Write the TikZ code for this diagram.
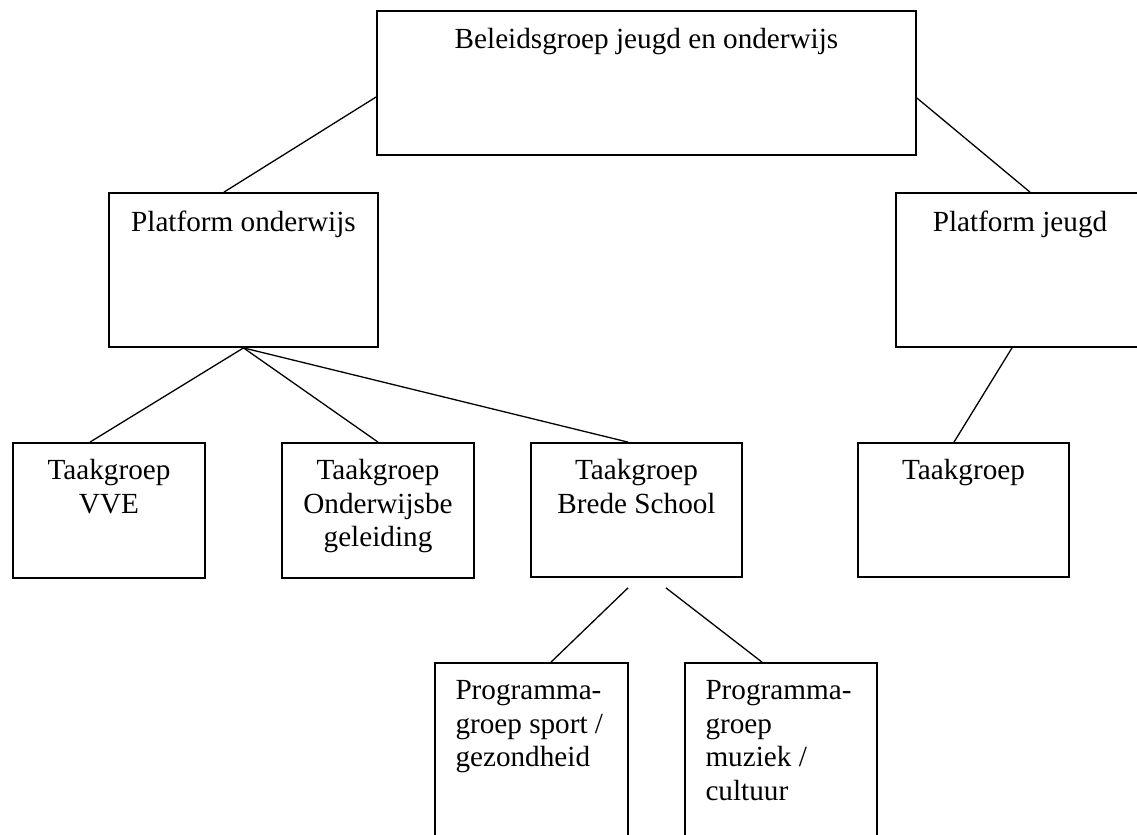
\documentclass[tikz,border=0pt]{standalone}
\usepackage{fontspec}
\setmainfont{Liberation Serif}
\usetikzlibrary{positioning}
\tikzstyle{groep} = [rectangle, 
draw=black, 
line width=0.9pt, 
inner sep=0pt]
\tikzstyle{tekst} = [inner sep=0pt, 
align=center, 
font=\fontsize{14.6}{16.8}\selectfont]
\tikzstyle{tekstlinks} = [tekst, align=left]
\tikzstyle{lijn} = [line width=0.65pt]

\begin{document}
\begin{tikzpicture}[x=0.5pt, y=-0.5pt]
\useasboundingbox (0,0) rectangle (1137,835);
\clip (0,0) rectangle (1137,835);

% Boxes
\node (beleid) [groep, minimum width=269.5pt, minimum height=72pt] at (646.5,83) {};
\node (ponderwijs) [groep, minimum width=134.5pt, minimum height=77pt] at (243.5,270) {};
\node (pjeugd) [groep, minimum width=124pt, minimum height=77pt] at (1020,270) {};
\node (vve) [groep, minimum width=96pt, minimum height=67.5pt] at (109,510.5) {};
\node (obeg) [groep, minimum width=96pt, minimum height=67.5pt] at (378,510.5) {};
\node (brede) [groep, minimum width=105.5pt, minimum height=67pt] at (636.5,510) {};
\node (tjeugd) [groep, minimum width=105.5pt, minimum height=67pt] at (963.5,510) {};
\node (sport) [groep, minimum width=96.5pt, minimum height=98.5pt] at (531.5,761.5) {};
\node (muziek) [groep, minimum width=96pt, minimum height=98.5pt] at (781,761.5) {};

% Texts
\node (beleidtxt) [tekst, below=9pt of beleid.north] {Beleidsgroep jeugd en onderwijs};
\node (ponderwijstxt) [tekst, below=9pt of ponderwijs.north] {Platform onderwijs};
\node (pjeugdtxt) [tekst, below=9pt of pjeugd.north] {Platform jeugd};
\node (vvetxt) [tekst, below=8.5pt of vve.north] {Taakgroep\\VVE};
\node (obegtxt) [tekst, below=8.5pt of obeg.north] {Taakgroep\\Onderwijsbe\\geleiding};
\node (bredetxt) [tekst, below=8.5pt of brede.north] {Taakgroep\\Brede School};
\node (tjeugdtxt) [tekst, below=8.5pt of tjeugd.north] {Taakgroep};
\node (sporttxt) [tekstlinks, below right=9pt and 10.5pt of sport.north west] {Programma-\\groep sport /\\gezondheid};
\node (muziektxt) [tekstlinks, below right=9pt and 10.5pt of muziek.north west] {Programma-\\groep\\muziek /\\cultuur};

% Lines
\draw [lijn] ([yshift=-7pt]beleid.west) -- ([xshift=-9.75pt]ponderwijs.north);
\draw [lijn] ([yshift=-7.5pt]beleid.east) -- ([xshift=5pt]pjeugd.north);
\draw [lijn] (ponderwijs.south) -- ([xshift=-9.5pt]vve.north);
\draw [lijn] (ponderwijs.south) -- (obeg.north);
\draw [lijn] (ponderwijs.south) -- ([xshift=-4.25pt]brede.north);
\draw [lijn] ([xshift=-4pt]pjeugd.south) -- ([xshift=-4.75pt]tjeugd.north);
\draw [lijn] ([xshift=-4.25pt,yshift=-5pt]brede.south) -- ([xshift=9.75pt]sport.north);
\draw [lijn] ([xshift=14.75pt,yshift=-5pt]brede.south) -- ([xshift=-9.5pt]muziek.north);

\end{tikzpicture}
\end{document}
